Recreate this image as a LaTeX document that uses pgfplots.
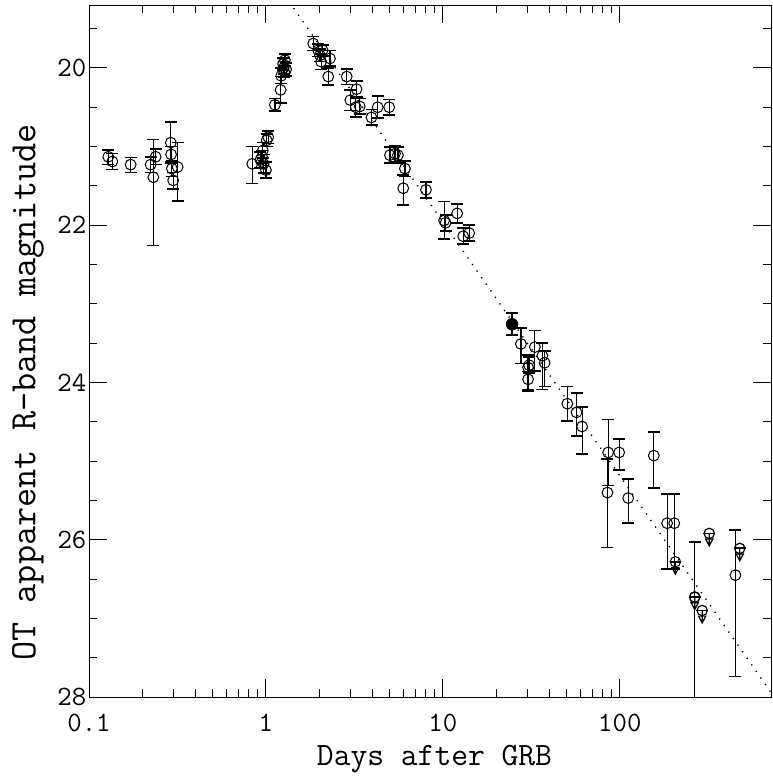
\documentclass[border=0pt]{standalone}
\usepackage{fontspec}
\usepackage{pgfplots}
\usepackage{pgfplotstable}
\pgfplotsset{compat=1.18}

% upper limit: circle, bar, arrow down
\pgfdeclareplotmark{ulim}{%
  \pgfpathcircle{\pgfpointorigin}{2.6pt}\pgfusepathqstroke
  \pgfsetlinewidth{0.9pt}%
  \pgfpathmoveto{\pgfpoint{-2.9pt}{0pt}}\pgfpathlineto{\pgfpoint{2.9pt}{0pt}}\pgfusepathqstroke
  \pgfsetlinewidth{0.6pt}%
  \pgfpathmoveto{\pgfpoint{0pt}{0pt}}\pgfpathlineto{\pgfpoint{0pt}{-6pt}}
  \pgfpathmoveto{\pgfpoint{-1.8pt}{-2.8pt}}\pgfpathlineto{\pgfpoint{1.8pt}{-2.8pt}}
  \pgfpathlineto{\pgfpoint{0pt}{-6.2pt}}\pgfpathclose
  \pgfusepathqstroke}

% t (days), R mag, err up (brighter), err down (fainter)
\pgfplotstableread{
t      m      em    ep
0.1285 21.13  0.09  0.10
0.1355 21.19  0.10  0.10
0.172  21.23  0.09  0.10
0.223  21.23  0.10  0.10
0.231  21.39  0.48  0.87
0.238  21.13  0.10  0.10
0.290  20.95  0.26  0.26
0.291  21.10  0.10  0.10
0.294  21.28  0.10  0.10
0.299  21.43  0.10  0.11
0.317  21.26  0.31  0.43
0.837  21.22  0.22  0.25
0.93   21.17  0.10  0.10
0.95   21.13  0.08  0.08
0.96   21.05  0.10  0.10
0.97   21.22  0.12  0.12
1.00   21.30  0.10  0.10
1.01   20.92  0.08  0.08
1.03   20.88  0.08  0.08
1.124  20.47  0.08  0.08
1.21   20.28  0.17  0.17
1.22   20.10  0.10  0.10
1.25   19.95  0.08  0.08
1.26   20.00  0.08  0.08
1.27   20.05  0.07  0.07
1.28   19.90  0.08  0.08
1.30   20.02  0.08  0.08
1.85   19.69  0.09  0.09
1.975  19.775 0.08  0.08
2.02   19.84  0.08  0.08
2.05   19.92  0.10  0.10
2.09   19.775 0.07  0.07
2.25   20.11  0.11  0.11
2.30   19.88  0.10  0.10
2.86   20.11  0.10  0.10
3.00   20.41  0.13  0.13
3.22   20.50  0.12  0.12
3.25   20.27  0.10  0.10
3.39   20.49  0.10  0.10
3.95   20.63  0.10  0.10
4.28   20.50  0.14  0.14
4.97   20.50  0.10  0.10
5.02   21.11  0.10  0.10
5.36   21.09  0.10  0.10
5.57   21.11  0.10  0.10
5.97   21.53  0.17  0.21
6.10   21.28  0.10  0.10
8.02   21.55  0.10  0.10
10.16  21.94  0.24  0.24
10.35  21.97  0.10  0.10
12.04  21.85  0.12  0.12
13.02  22.14  0.10  0.10
14.08  22.10  0.10  0.10
27.6   23.51  0.20  0.25
30.7   23.78  0.10  0.10
30.3   23.81  0.16  0.30
30.3   23.96  0.10  0.14
33.1   23.55  0.21  0.30
36.5   23.66  0.16  0.43
37.6   23.75  0.15  0.30
50.5   24.27  0.22  0.22
56.9   24.38  0.25  0.30
61.2   24.56  0.25  0.35
85.9   24.89  0.42  0.42
85.1   25.40  0.43  0.70
99.1   24.89  0.17  0.22
111.5  25.47  0.24  0.32
155.6  24.93  0.30  0.41
185    25.79  0.37  0.58
203    25.79  0.37  0.58
265    26.73  0.70  1.80
450    26.45  0.57  1.29
}\detections

\pgfplotstableread{
t      m      em    ep
24.6   23.26  0.14  0.14
}\filled

\pgfplotstableread{
t    m
206  26.28
265  26.73
292  26.90
320  25.92
476  26.11
}\limits

\begin{document}
\begin{tikzpicture}
\begin{axis}[
  name=ax, at={(0,0)}, anchor=south west,
  scale only axis, width=341pt, height=346pt,
  xmode=log, xmin=0.1, xmax=715,
  ymin=19.2, ymax=28, y dir=reverse,
  xtick={0.1,1,10,100}, xticklabels={0.1,1,10,100},
  ytick={20,22,24,26,28}, yticklabels={20,22,24,26,28},
  minor ytick={19.5,20,...,28},
  major tick length=8.8pt, minor tick length=4.2pt,
  axis line style={line width=0.45pt},
  every tick/.style={black, line width=0.45pt},
  tick label style={font=\ttfamily\fontsize{14}{14}\selectfont},
  xticklabel style={yshift=-4.8pt},
  yticklabel style={xshift=2.2pt},
  xlabel={Days after GRB},
  ylabel={OT apparent R-band magnitude},
  xlabel style={at={(axis description cs:0.5066,-0.0903)}, anchor=center,
    font=\ttfamily\fontsize{16.3}{16.3}\selectfont},
  ylabel style={at={(axis description cs:-0.0894,0.44)}, anchor=center,
    font=\ttfamily\fontsize{18.6}{18.6}\selectfont},
  error bars/error bar style={line width=0.6pt, black},
  error bars/error mark options={rotate=90, mark size=3pt, line width=0.85pt, black},
]

% power-law decay
\addplot[black, line width=0.7pt, dash pattern=on 0.6pt off 3.4pt]
  coordinates {(1.2,18.99) (800,28.10)};

\addplot[only marks, black, mark=o, mark size=2.7pt, mark options={line width=0.5pt},
  error bars/.cd, y dir=both, y explicit]
  table[x=t, y=m, y error plus=ep, y error minus=em] {\detections};

\addplot[only marks, black, mark=*, mark size=2.9pt,
  error bars/.cd, y dir=both, y explicit]
  table[x=t, y=m, y error plus=ep, y error minus=em] {\filled};

\addplot[only marks, black, mark=ulim, mark options={line width=0.5pt}]
  table[x=t, y=m] {\limits};

\end{axis}
\pgfresetboundingbox
\path[use as bounding box] ([xshift=-44.5pt,yshift=-40.5pt]ax.south west)
  rectangle ([xshift=0.5pt,yshift=2.5pt]ax.north east);
\end{tikzpicture}
\end{document}
